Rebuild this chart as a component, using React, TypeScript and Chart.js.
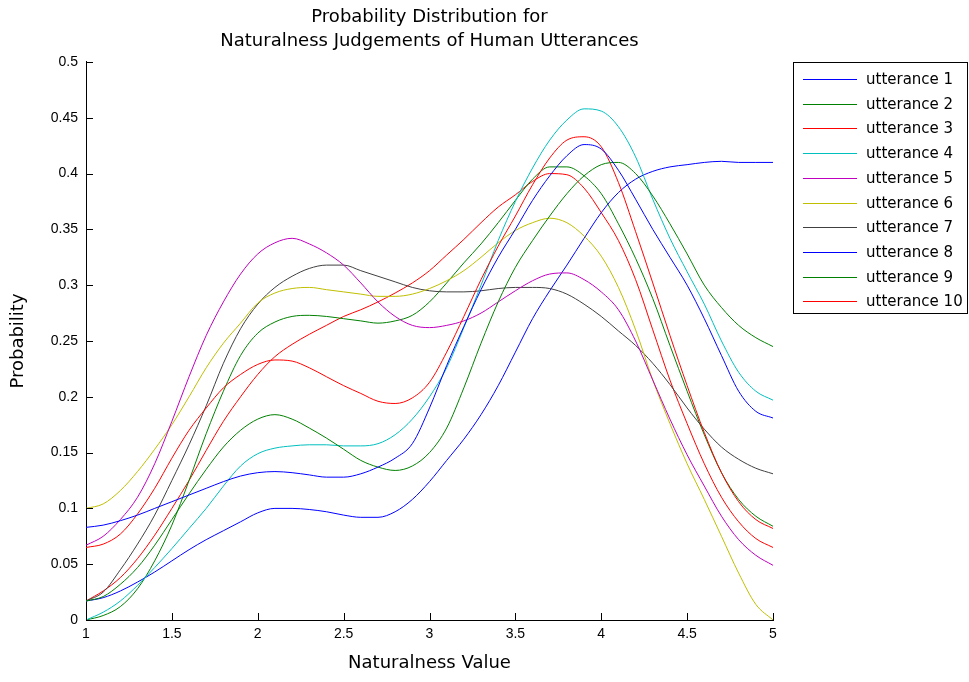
import React, { useEffect, useRef } from "react";
import { Chart, registerables } from "chart.js";

Chart.register(...registerables);

const titleLines = ["Probability Distribution for", "Naturalness Judgements of Human Utterances"];
const xAxisTitle = "Naturalness Value";
const yAxisTitle = "Probability";

const xValues = [
  1, 1.1, 1.2, 1.3, 1.4, 1.5, 1.6, 1.7, 1.8, 1.9,
  2, 2.1, 2.2, 2.3, 2.4, 2.5, 2.6, 2.7, 2.8, 2.9,
  3, 3.1, 3.2, 3.3, 3.4, 3.5, 3.6, 3.7, 3.8, 3.9,
  4, 4.1, 4.2, 4.3, 4.4, 4.5, 4.6, 4.7, 4.8, 4.9, 5,
];

const xTickValues = [1, 1.5, 2, 2.5, 3, 3.5, 4, 4.5, 5];
const xTickLabels = ["1", "1.5", "2", "2.5", "3", "3.5", "4", "4.5", "5"];
const yTickValues = [0, 0.05, 0.1, 0.15, 0.2, 0.25, 0.3, 0.35, 0.4, 0.45, 0.5];
const yTickLabels = ["0", "0.05", "0.1", "0.15", "0.2", "0.25", "0.3", "0.35", "0.4", "0.45", "0.5"];

const seriesLabels = [
  "utterance 1", "utterance 2", "utterance 3", "utterance 4", "utterance 5",
  "utterance 6", "utterance 7", "utterance 8", "utterance 9", "utterance 10",
];

const utterance1 = [
  0.083, 0.085, 0.089, 0.094, 0.1, 0.106, 0.112, 0.118, 0.124, 0.129,
  0.132, 0.133, 0.132, 0.13, 0.128, 0.128, 0.131, 0.137, 0.145, 0.158,
  0.19, 0.228, 0.263, 0.296, 0.325, 0.35, 0.376, 0.398, 0.416, 0.426,
  0.422, 0.403, 0.377, 0.35, 0.325, 0.3, 0.27, 0.237, 0.205, 0.187, 0.181,
];
const utterance2 = [
  0.017, 0.021, 0.032, 0.047, 0.067, 0.09, 0.113, 0.135, 0.155, 0.17,
  0.18, 0.184, 0.18, 0.172, 0.163, 0.153, 0.143, 0.137, 0.134, 0.138,
  0.15, 0.172, 0.208, 0.248, 0.285, 0.316, 0.34, 0.362, 0.382, 0.398,
  0.408, 0.41, 0.4, 0.38, 0.355, 0.328, 0.3, 0.28, 0.264, 0.253, 0.245,
];
const utterance3 = [
  0.065, 0.068, 0.077, 0.095, 0.118, 0.145, 0.17, 0.19, 0.208, 0.22,
  0.229, 0.233, 0.232, 0.226, 0.218, 0.21, 0.203, 0.196, 0.194, 0.199,
  0.213, 0.24, 0.272, 0.305, 0.335, 0.362, 0.39, 0.414, 0.43, 0.433,
  0.424, 0.392, 0.348, 0.302, 0.255, 0.21, 0.168, 0.132, 0.106, 0.09, 0.082,
];
const utterance4 = [
  0, 0.007, 0.017, 0.031, 0.047, 0.064, 0.082, 0.1, 0.12, 0.138,
  0.149, 0.154, 0.156, 0.157, 0.157, 0.156, 0.156, 0.158, 0.166, 0.18,
  0.2, 0.226, 0.262, 0.3, 0.34, 0.375, 0.405, 0.43, 0.448, 0.458,
  0.456, 0.442, 0.415, 0.377, 0.342, 0.312, 0.283, 0.25, 0.222, 0.205, 0.197,
];
const utterance5 = [
  0.067, 0.075, 0.09, 0.11, 0.14, 0.178, 0.218, 0.255, 0.285, 0.31,
  0.328, 0.338, 0.342, 0.337, 0.329, 0.318, 0.302, 0.285, 0.272, 0.264,
  0.262, 0.264, 0.268, 0.275, 0.285, 0.295, 0.304, 0.31, 0.311, 0.305,
  0.294, 0.278, 0.25, 0.215, 0.18, 0.148, 0.12, 0.093, 0.072, 0.058, 0.049,
];
const utterance6 = [
  0.1, 0.104, 0.116, 0.133, 0.153, 0.175, 0.2, 0.226, 0.248, 0.266,
  0.284, 0.293, 0.297, 0.298, 0.296, 0.294, 0.292, 0.29, 0.29, 0.292,
  0.297, 0.304, 0.313, 0.325, 0.338, 0.349, 0.356, 0.36, 0.356, 0.344,
  0.326, 0.298, 0.26, 0.215, 0.176, 0.14, 0.108, 0.075, 0.042, 0.014, 0,
];
const utterance7 = [
  0.017, 0.025, 0.045, 0.068, 0.094, 0.125, 0.157, 0.192, 0.23, 0.261,
  0.283, 0.298, 0.308, 0.315, 0.318, 0.318, 0.313, 0.308, 0.303, 0.298,
  0.295, 0.294, 0.294, 0.295, 0.297, 0.298, 0.298, 0.297, 0.292, 0.283,
  0.272, 0.259, 0.246, 0.23, 0.211, 0.19, 0.171, 0.155, 0.144, 0.136, 0.131,
];
const utterance8 = [
  0.017, 0.02, 0.026, 0.034, 0.043, 0.053, 0.063, 0.072, 0.08, 0.088,
  0.096, 0.1, 0.1, 0.099, 0.097, 0.094, 0.092, 0.092, 0.097, 0.108,
  0.124, 0.143, 0.162, 0.184, 0.21, 0.24, 0.27, 0.295, 0.318, 0.342,
  0.365, 0.383, 0.395, 0.402, 0.406, 0.408, 0.41, 0.411, 0.41, 0.41, 0.41,
];
const utterance9 = [
  0, 0.004, 0.012, 0.028, 0.053, 0.085, 0.125, 0.167, 0.205, 0.237,
  0.257, 0.267, 0.272, 0.273, 0.272, 0.27, 0.268, 0.266, 0.268, 0.273,
  0.285, 0.302, 0.32, 0.337, 0.356, 0.376, 0.395, 0.406, 0.406, 0.398,
  0.382, 0.355, 0.324, 0.288, 0.246, 0.205, 0.166, 0.132, 0.108, 0.093, 0.084,
];
const utterance10 = [
  0.017, 0.026, 0.038, 0.055, 0.076, 0.1, 0.125, 0.152, 0.178, 0.2,
  0.22, 0.236, 0.247, 0.256, 0.264, 0.272, 0.278, 0.285, 0.293, 0.302,
  0.313, 0.327, 0.341, 0.356, 0.37, 0.381, 0.393, 0.4, 0.399, 0.387,
  0.365, 0.34, 0.305, 0.26, 0.215, 0.176, 0.14, 0.11, 0.088, 0.073, 0.065,
];

const seriesValues = [
  utterance1, utterance2, utterance3, utterance4, utterance5,
  utterance6, utterance7, utterance8, utterance9, utterance10,
];

const seriesColors = [
  "#0000FF", "#008000", "#FF0000", "#00BFBF", "#BF00BF",
  "#BFBF00", "#404040", "#0000FF", "#008000", "#FF0000",
];

const TICK_FONT = '"Liberation Sans", Arial, sans-serif';
const TEXT_FONT = '"DejaVu Sans", "Liberation Sans", sans-serif';

const inwardTicksPlugin = {
  id: "inwardTicks",
  afterDatasetsDraw(chart: any) {
    const { ctx, chartArea, scales } = chart;
    ctx.save();
    ctx.strokeStyle = "#000";
    ctx.lineWidth = 1;
    ctx.beginPath();
    xTickValues.forEach((v) => {
      const px = Math.round(scales.x.getPixelForValue(v)) + 0.5;
      ctx.moveTo(px, chartArea.bottom);
      ctx.lineTo(px, chartArea.bottom - 7);
    });
    yTickValues.forEach((v) => {
      const py = Math.round(scales.y.getPixelForValue(v)) + 0.5;
      ctx.moveTo(chartArea.left, py);
      ctx.lineTo(chartArea.left + 7, py);
    });
    ctx.stroke();
    ctx.restore();
  },
};

const boxLegendPlugin = {
  id: "boxLegend",
  afterDraw(chart: any) {
    const { ctx } = chart;
    const left = 793;
    const top = 62;
    const right = 967;
    const bottom = 313;
    ctx.save();
    ctx.fillStyle = "#fff";
    ctx.fillRect(left, top, right - left, bottom - top);
    ctx.strokeStyle = "#000";
    ctx.lineWidth = 1;
    ctx.strokeRect(left + 0.5, top + 0.5, right - left, bottom - top);
    ctx.font = "15px " + TEXT_FONT;
    ctx.textBaseline = "middle";
    ctx.textAlign = "left";
    chart.data.datasets.forEach((ds: any, i: number) => {
      const y = Math.round(79 + i * 24.7);
      ctx.fillStyle = seriesColors[i];
      ctx.fillRect(803, y, 54, 1);
      ctx.fillStyle = "#000";
      ctx.fillText(ds.label, 866, y + 1);
    });
    ctx.restore();
  },
};

export default function App() {
  const canvasRef = useRef<HTMLCanvasElement | null>(null);

  useEffect(() => {
    if (!canvasRef.current) return;
    const datasets = seriesValues.map((vals, i) => ({
      label: seriesLabels[i],
      data: vals.map((y, j) => ({ x: xValues[j], y })),
      borderColor: seriesColors[i],
      backgroundColor: seriesColors[i],
      borderWidth: 1,
      pointRadius: 0,
      fill: false,
      cubicInterpolationMode: "monotone" as const,
    }));

    const chart = new Chart(canvasRef.current, {
      type: "line",
      data: { datasets },
      plugins: [inwardTicksPlugin, boxLegendPlugin],
      options: {
        animation: false,
        responsive: false,
        layout: { padding: { left: 0, right: 196, top: 0, bottom: 0 } },
        plugins: {
          legend: { display: false },
          tooltip: { enabled: false },
          title: {
            display: true,
            text: titleLines,
            fullSize: false,
            color: "#000",
            font: { family: TEXT_FONT, size: 18, weight: "normal", lineHeight: 1.333 },
            padding: { top: 5, bottom: 9 },
          },
        },
        scales: {
          x: {
            type: "linear",
            min: 1,
            max: 5,
            afterFit: (s: any) => {
              s.height = 62;
            },
            afterBuildTicks: (s: any) => {
              s.ticks = xTickValues.map((v) => ({ value: v }));
            },
            grid: { display: false, drawTicks: false },
            border: { display: true, color: "#000", width: 1 },
            ticks: {
              color: "#000",
              padding: 6,
              maxRotation: 0,
              autoSkip: false,
              font: { family: TICK_FONT, size: 14 },
              callback: (v: any) => {
                const i = xTickValues.indexOf(Number(v));
                return i >= 0 ? xTickLabels[i] : "";
              },
            },
            title: {
              display: true,
              text: xAxisTitle,
              color: "#000",
              font: { family: TEXT_FONT, size: 18 },
              padding: { top: 0, bottom: 8 },
            },
          },
          y: {
            type: "linear",
            min: 0,
            max: 0.5,
            afterFit: (s: any) => {
              s.width = 86;
            },
            afterBuildTicks: (s: any) => {
              s.ticks = yTickValues.map((v) => ({ value: v }));
            },
            grid: { display: false, drawTicks: false },
            border: { display: true, color: "#000", width: 1 },
            ticks: {
              color: "#000",
              padding: 8,
              autoSkip: false,
              font: { family: TICK_FONT, size: 14 },
              callback: (v: any) => {
                const i = yTickValues.findIndex((t) => Math.abs(t - Number(v)) < 1e-9);
                return i >= 0 ? yTickLabels[i] : "";
              },
            },
            title: {
              display: true,
              text: yAxisTitle,
              color: "#000",
              font: { family: TEXT_FONT, size: 18 },
              padding: { top: 8, bottom: 0 },
            },
          },
        },
      },
    });
    return () => chart.destroy();
  }, []);

  return (
    <div style={{ position: "absolute", left: 0, top: 0, width: 969, height: 682, background: "#fff" }}>
      <canvas ref={canvasRef} width={969} height={682} style={{ display: "block", width: 969, height: 682 }} />
    </div>
  );
}
